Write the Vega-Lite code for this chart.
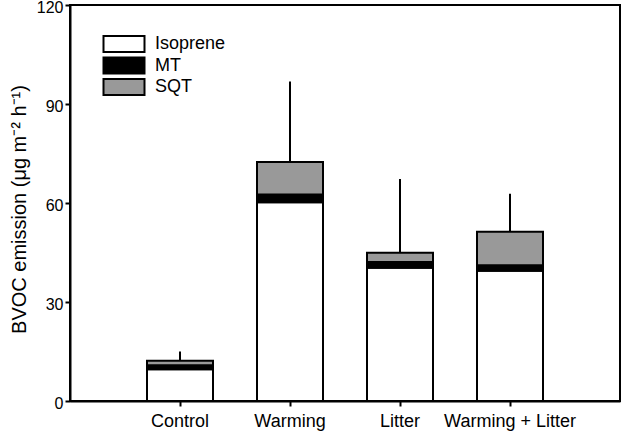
{
  "$schema": "https://vega.github.io/schema/vega-lite/v6.json",
  "width": 550,
  "height": 396,
  "autosize": {"type": "none"},
  "padding": {"left": 70, "top": 5, "right": 2, "bottom": 31},
  "background": "white",
  "config": {
    "font": "Liberation Sans",
    "view": {"stroke": "black", "strokeWidth": 2},
    "axis": {
      "domainColor": "black", "domainWidth": 2, "tickColor": "black", "tickWidth": 2,
      "labelColor": "black", "titleColor": "black", "grid": false,
      "labelFont": "Liberation Sans", "titleFont": "Liberation Sans",
      "labelFontSize": 16, "titleFontWeight": "normal"
    }
  },
  "datasets": {
    "stack": [
      {"treatment": "Control", "compound": "Isoprene", "value": 9.6},
      {"treatment": "Control", "compound": "MT", "value": 1.2},
      {"treatment": "Control", "compound": "SQT", "value": 1.4},
      {"treatment": "Warming", "compound": "Isoprene", "value": 60.2},
      {"treatment": "Warming", "compound": "MT", "value": 2.4},
      {"treatment": "Warming", "compound": "SQT", "value": 9.8},
      {"treatment": "Litter", "compound": "Isoprene", "value": 40.4},
      {"treatment": "Litter", "compound": "MT", "value": 1.7},
      {"treatment": "Litter", "compound": "SQT", "value": 2.8},
      {"treatment": "Warming + Litter", "compound": "Isoprene", "value": 39.5},
      {"treatment": "Warming + Litter", "compound": "MT", "value": 1.6},
      {"treatment": "Warming + Litter", "compound": "SQT", "value": 10.2}
    ],
    "err": [
      {"treatment": "Control", "total": 12.2, "upper": 15.0},
      {"treatment": "Warming", "total": 72.4, "upper": 96.8},
      {"treatment": "Litter", "total": 44.9, "upper": 67.3},
      {"treatment": "Warming + Litter", "total": 51.3, "upper": 62.8}
    ]
  },
  "layer": [
    {
      "data": {"name": "err"},
      "mark": {"type": "rule", "color": "black", "strokeWidth": 2},
      "encoding": {
        "x": {"field": "treatment", "type": "nominal", "sort": ["Control", "Warming", "Litter", "Warming + Litter"]},
        "y": {"field": "total", "type": "quantitative"},
        "y2": {"field": "upper"}
      }
    },
    {
      "data": {"name": "stack"},
      "mark": {"type": "bar", "stroke": "black", "strokeWidth": 2},
      "encoding": {
        "x": {
          "field": "treatment", "type": "nominal",
          "sort": ["Control", "Warming", "Litter", "Warming + Litter"],
          "scale": {"paddingInner": 0.4, "paddingOuter": 0.7},
          "axis": {"title": null, "labelAngle": 0, "labelAlign": "center", "labelBaseline": "top",
                   "tickSize": 5, "labelPadding": 6, "labelFontSize": 18}
        },
        "y": {
          "field": "value", "type": "quantitative", "stack": "zero",
          "scale": {"domain": [0, 120], "nice": false},
          "axis": {"values": [0, 30, 60, 90, 120], "tickSize": 5, "labelPadding": 2, "labelOffset": 2,
                   "title": "BVOC emission (μg m⁻² h⁻¹)", "titleFontSize": 20, "titlePadding": 7, "titleY": 204}
        },
        "order": {"field": "compound", "sort": "ascending"},
        "color": {
          "field": "compound", "type": "nominal",
          "scale": {"domain": ["Isoprene", "MT", "SQT"], "range": ["#ffffff", "#000000", "#999999"]},
          "legend": {
            "title": null, "orient": "none", "legendX": 45, "legendY": 30,
            "symbolType": "M-2.5625,-1H2.5625V1H-2.5625Z", "symbolSize": 256,
            "symbolStrokeColor": "black", "symbolStrokeWidth": 2, "symbolOpacity": 1,
            "labelFontSize": 18, "labelColor": "black", "labelOffset": 22, "rowPadding": -2.5
          }
        }
      }
    }
  ]
}
